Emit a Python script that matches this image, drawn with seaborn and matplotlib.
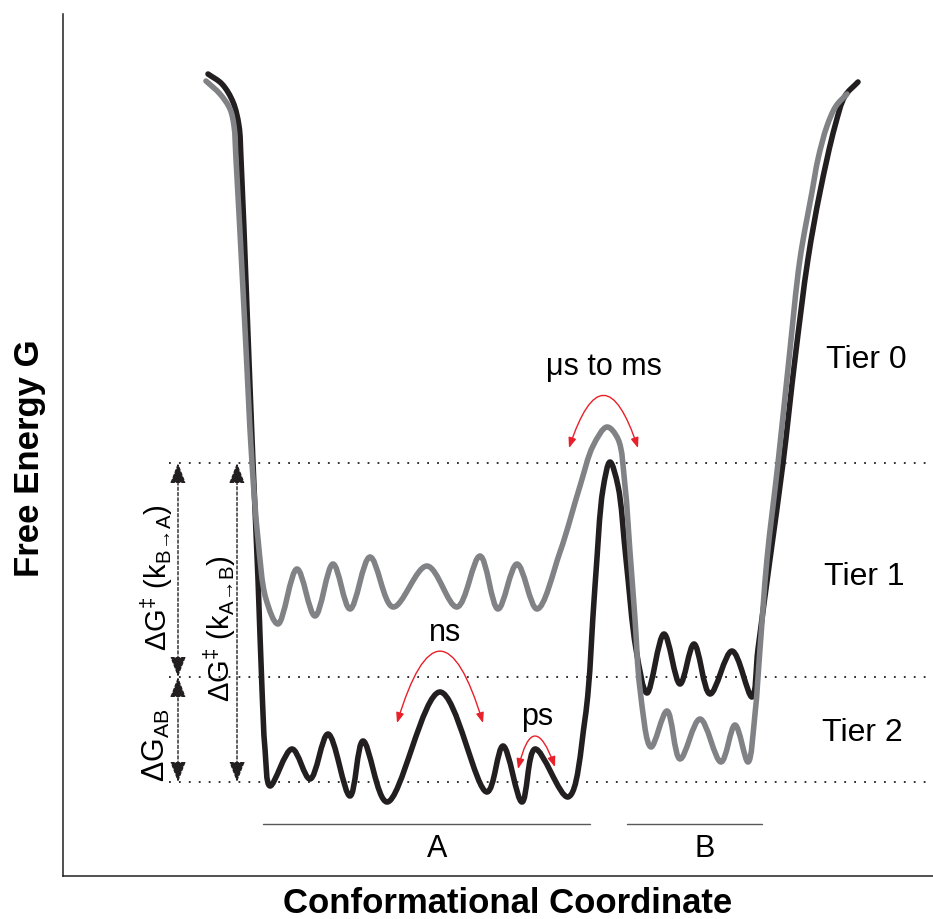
import numpy as np
import matplotlib
matplotlib.use("Agg")
import matplotlib.pyplot as plt
from matplotlib.path import Path
from matplotlib.patches import PathPatch, FancyArrowPatch
import seaborn as sns

# ---------------- data (pixel positions: x right, y down) -------------
black_x = [208, 222, 233, 239, 241, 247, 253, 258, 262, 265, 270, 292, 310, 328, 350,
           363, 387, 440, 487, 503, 522, 535, 568, 585, 595, 603, 610, 618, 626, 636,
           647, 664, 680, 694, 710, 732, 752, 758, 770, 783, 795, 808, 820, 835, 845, 858]
black_y = [75, 85, 103, 127, 160, 310, 464, 580, 690, 750, 787, 750, 780, 735, 797,
           742, 803, 693, 793, 747, 803, 750, 798, 720, 587, 490, 463, 487, 560, 650,
           694, 635, 685, 645, 695, 652, 698, 650, 560, 464, 360, 260, 193, 127, 97, 83]

gray_x = [206, 220, 230, 234, 236, 244, 252, 258, 266, 278, 297, 315, 333, 350, 370,
          393, 427, 457, 480, 498, 517, 537, 560, 580, 593, 607, 618, 625, 630, 635,
          640, 651, 667, 680, 700, 721, 735, 748, 755, 760, 767, 778, 789, 800, 812,
          818, 827, 836, 847]
gray_y = [82, 95, 110, 127, 160, 310, 464, 540, 600, 625, 570, 617, 565, 610, 558,
          608, 567, 608, 557, 610, 565, 610, 553, 487, 447, 428, 440, 487, 553, 620,
          690, 748, 712, 760, 720, 763, 726, 763, 715, 650, 560, 464, 360, 260, 193,
          160, 127, 107, 95]

level_y = [464, 678, 783]          # dotted reference levels
level_x_start = 169

tier_labels = ["Tier 0", "Tier 1", "Tier 2"]
tier_label_xy = [(866, 360), (864, 577), (862, 733)]

time_labels = ["\u03bcs to ms", "ns", "ps"]
time_label_xy = [(604, 367), (445, 633), (537, 717)]
# red double arcs: (left end, right end, bend)
time_arcs = [((569, 449), (638, 449), -1.5),
             ((397, 724), (483, 724), -1.65),
             ((518, 770), (555, 768), -1.68)]

state_labels = ["A", "B"]
state_label_xy = [(437, 849), (705, 849)]
state_spans = [(263, 590), (627, 762)]
state_span_y = 825

# ---------------- picture -> data units ----------------
X0, Y0 = 63, 877          # axis origin in the picture
W, H = 933, 920


def cx(v):
    return np.asarray(v, float) - X0


def cy(v):
    return Y0 - np.asarray(v, float)


def smooth_path(xs, ys, alpha=0.5):
    """Centripetal Catmull-Rom through the points, as cubic Bezier segments."""
    P = np.column_stack([xs, ys]).astype(float)
    P = np.vstack([2 * P[0] - P[1], P, 2 * P[-1] - P[-2]])
    verts = [P[1]]
    codes = [Path.MOVETO]
    for i in range(1, len(P) - 2):
        p0, p1, p2, p3 = P[i - 1], P[i], P[i + 1], P[i + 2]
        t0 = 0.0
        t1 = t0 + np.linalg.norm(p1 - p0) ** alpha
        t2 = t1 + np.linalg.norm(p2 - p1) ** alpha
        t3 = t2 + np.linalg.norm(p3 - p2) ** alpha
        m1 = (t2 - t1) * ((p1 - p0) / (t1 - t0) - (p2 - p0) / (t2 - t0) + (p2 - p1) / (t2 - t1))
        m2 = (t2 - t1) * ((p2 - p1) / (t2 - t1) - (p3 - p1) / (t3 - t1) + (p3 - p2) / (t3 - t2))
        verts += [p1 + m1 / 3, p2 - m2 / 3, p2]
        codes += [Path.CURVE4] * 3
    return Path(np.array(verts), codes)


sns.set_theme(style="white")
plt.rcParams["font.family"] = ["Liberation Sans", "DejaVu Sans"]
plt.rcParams["mathtext.fontset"] = "custom"
plt.rcParams["mathtext.rm"] = "Liberation Sans"
plt.rcParams["mathtext.it"] = "Liberation Sans:italic"
plt.rcParams["mathtext.bf"] = "Liberation Sans:bold"

fig = plt.figure(figsize=(W / 100, H / 100), dpi=100)
ax = fig.add_axes([X0 / W, (H - Y0) / H, (W - X0) / W, (Y0 - 15) / H])
ax.set_xlim(0, W - X0)
ax.set_ylim(0, Y0 - 15)
ax.set_xticks([])
ax.set_yticks([])
sns.despine(ax=ax)
for s in ["left", "bottom"]:
    ax.spines[s].set_color("#231f20")
    ax.spines[s].set_linewidth(1.1)

BLACK = "#231f20"
GRAY = "#808285"
RED = "#e8202a"

# dotted levels
for ly in level_y:
    ax.plot([cx(level_x_start), cx(W - 2)], [cy(ly), cy(ly)], color=BLACK, lw=1.3,
            ls=(0, (1, 4.5)), zorder=1, solid_capstyle="butt")

# landscape curves
ax.add_patch(PathPatch(smooth_path(cx(black_x), cy(black_y)), fill=False, ec=BLACK,
                       lw=4.0, capstyle="round", joinstyle="round", zorder=3))
ax.add_patch(PathPatch(smooth_path(cx(gray_x), cy(gray_y)), fill=False, ec=GRAY,
                       lw=4.0, capstyle="round", joinstyle="round", zorder=4))

# energy-difference double arrows
arrow_specs = [(178, level_y[0], level_y[1]), (178, level_y[1], level_y[2]),
               (237, level_y[0], level_y[2])]
for ax_x, y_top, y_bot in arrow_specs:
    arr = FancyArrowPatch((cx(ax_x), cy(y_bot)), (cx(ax_x), cy(y_top)),
                          arrowstyle="<|-|>,head_length=12.5,head_width=4.8",
                          mutation_scale=1, color=BLACK, lw=1.0,
                          linestyle=(0, (2.2, 1.6)), shrinkA=0, shrinkB=0, zorder=5)
    ax.add_patch(arr)

ax.text(cx(157), cy(578),
        r"$\Delta$G$^{\ddagger}$ (k$_{\mathrm{B}\!\rightarrow\!\mathrm{A}}$)",
        rotation=90, ha="center", va="center", fontsize=21, color="black")
ax.text(cx(156), cy(745), r"$\Delta$G$_{\mathrm{AB}}$",
        rotation=90, ha="center", va="center", fontsize=22, color="black")
ax.text(cx(220), cy(629),
        r"$\Delta$G$^{\ddagger}$ (k$_{\mathrm{A}\!\rightarrow\!\mathrm{B}}$)",
        rotation=90, ha="center", va="center", fontsize=21, color="black")

# timescale arcs
for (pa, pb, rad) in time_arcs:
    arc = FancyArrowPatch((cx(pa[0]), cy(pa[1])), (cx(pb[0]), cy(pb[1])),
                          arrowstyle="<|-|>,head_length=6,head_width=2.3",
                          connectionstyle=f"arc3,rad={rad}", mutation_scale=1,
                          color=RED, lw=1.0, shrinkA=0, shrinkB=0, zorder=6)
    ax.add_patch(arc)

for lab, (tx, ty) in zip(time_labels, time_label_xy):
    ax.text(cx(tx), cy(ty), lab, ha="center", va="center", fontsize=22, color="black")

for lab, (tx, ty) in zip(tier_labels, tier_label_xy):
    ax.text(cx(tx), cy(ty), lab, ha="center", va="center", fontsize=23, color="black")

for lab, (tx, ty), (x1, x2) in zip(state_labels, state_label_xy, state_spans):
    ax.plot([cx(x1), cx(x2)], [cy(state_span_y)] * 2, color="#58595b", lw=1.0)
    ax.text(cx(tx), cy(ty), lab, ha="center", va="center", fontsize=22, color="black")

ax.set_xlabel("Conformational Coordinate", fontsize=25, fontweight="bold",
              color="black", va="center")
ax.xaxis.set_label_coords((508 - X0) / (W - X0), (Y0 - 904) / (Y0 - 15))
ax.set_ylabel("Free Energy G", fontsize=25, fontweight="bold", color="black",
              va="center", ha="center")
ax.yaxis.set_label_coords((29 - X0) / (W - X0), (Y0 - 458) / (Y0 - 15))

fig.savefig("out.png", dpi=100)
